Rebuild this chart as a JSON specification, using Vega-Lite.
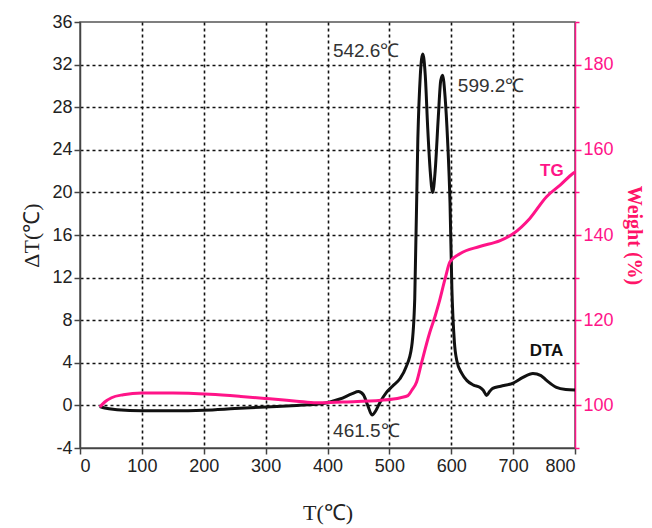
{
  "$schema": "https://vega.github.io/schema/vega-lite/v6.json",
  "width": 495,
  "height": 426,
  "autosize": {"type": "none"},
  "padding": {"left": 80, "top": 22, "right": 77, "bottom": 80},
  "background": "white",
  "config": {
    "view": {"stroke": "#555", "strokeWidth": 1.5},
    "axis": {"labelFont": "Liberation Sans", "labelFontSize": 18, "labelColor": "#222", "titleFontWeight": "normal"}
  },
  "datasets": {
    "dta": [
      {"T": 32, "dT": -0.1}, {"T": 40, "dT": -0.25}, {"T": 60, "dT": -0.4}, {"T": 100, "dT": -0.5},
      {"T": 150, "dT": -0.5}, {"T": 200, "dT": -0.45}, {"T": 250, "dT": -0.3}, {"T": 300, "dT": -0.15},
      {"T": 350, "dT": 0.0}, {"T": 390, "dT": 0.15}, {"T": 420, "dT": 0.6}, {"T": 440, "dT": 1.1},
      {"T": 450, "dT": 1.3}, {"T": 458, "dT": 1.0}, {"T": 465, "dT": 0.0}, {"T": 472, "dT": -0.9},
      {"T": 478, "dT": -0.5}, {"T": 485, "dT": 0.3}, {"T": 495, "dT": 1.2}, {"T": 505, "dT": 1.8},
      {"T": 517, "dT": 2.5}, {"T": 527, "dT": 3.6}, {"T": 536, "dT": 5.5}, {"T": 541, "dT": 10},
      {"T": 546, "dT": 25}, {"T": 550, "dT": 31}, {"T": 554, "dT": 33}, {"T": 558, "dT": 31},
      {"T": 562, "dT": 26}, {"T": 566, "dT": 22}, {"T": 570, "dT": 20}, {"T": 574, "dT": 22},
      {"T": 579, "dT": 27}, {"T": 583, "dT": 30.5}, {"T": 586, "dT": 31}, {"T": 590, "dT": 29},
      {"T": 594, "dT": 25}, {"T": 598, "dT": 19}, {"T": 601, "dT": 11}, {"T": 605, "dT": 6},
      {"T": 609, "dT": 4.2}, {"T": 617, "dT": 3.0}, {"T": 625, "dT": 2.35}, {"T": 636, "dT": 1.9},
      {"T": 646, "dT": 1.7}, {"T": 652, "dT": 1.4}, {"T": 657, "dT": 0.94}, {"T": 662, "dT": 1.3},
      {"T": 667, "dT": 1.6}, {"T": 680, "dT": 1.8}, {"T": 700, "dT": 2.1}, {"T": 715, "dT": 2.6},
      {"T": 732, "dT": 3.0}, {"T": 745, "dT": 2.8}, {"T": 754, "dT": 2.35}, {"T": 770, "dT": 1.7},
      {"T": 785, "dT": 1.5}, {"T": 800, "dT": 1.45}
    ],
    "tg": [
      {"T": 32, "W": 99.6}, {"T": 40, "W": 100.8}, {"T": 51, "W": 101.8}, {"T": 70, "W": 102.5},
      {"T": 100, "W": 102.9}, {"T": 150, "W": 102.9}, {"T": 210, "W": 102.6}, {"T": 260, "W": 102.1},
      {"T": 302, "W": 101.6}, {"T": 350, "W": 101.0}, {"T": 382, "W": 100.6}, {"T": 425, "W": 100.8},
      {"T": 487, "W": 101.2}, {"T": 518, "W": 101.8}, {"T": 530, "W": 102.3}, {"T": 536, "W": 103.5},
      {"T": 544, "W": 105.5}, {"T": 552, "W": 110}, {"T": 565, "W": 117}, {"T": 574, "W": 121},
      {"T": 580, "W": 124}, {"T": 590, "W": 129.7}, {"T": 598, "W": 133.7}, {"T": 614, "W": 135.6},
      {"T": 646, "W": 137.3}, {"T": 679, "W": 138.7}, {"T": 700, "W": 140.3}, {"T": 727, "W": 143.9},
      {"T": 754, "W": 149}, {"T": 776, "W": 151.7}, {"T": 797, "W": 154.5}, {"T": 800, "W": 154.8}
    ],
    "peaks": [
      {"T": 408.7, "dT": 33.3, "label": "542.6℃"},
      {"T": 610.6, "dT": 30.0, "label": "599.2℃"},
      {"T": 409, "dT": -2.45, "label": "461.5℃"}
    ],
    "tglabel": [{"T": 762.5, "dT": 22.0, "label": "TG"}],
    "dtalabel": [{"T": 754, "dT": 5.1, "label": "DTA"}]
  },
  "layer": [
    {
      "layer": [
        {
          "data": {"name": "dta"},
          "mark": {"type": "line", "color": "#111", "strokeWidth": 3, "interpolate": "monotone"},
          "encoding": {
            "x": {
              "field": "T", "type": "quantitative",
              "scale": {"domain": [0, 800], "nice": false},
              "axis": {
                "values": [0, 50, 100, 150, 200, 250, 300, 350, 400, 450, 500, 550, 600, 650, 700, 750, 800],
                "labelExpr": "datum.value % 100 === 0 ? datum.label : ''",
                "title": "T(℃)", "titleFont": "Liberation Serif", "titleFontSize": 22, "titleColor": "#222",
                "titlePadding": 27,
                "domainColor": "#444", "domainWidth": 1.5,
                "tickColor": "#444", "tickWidth": 1.5,
                "tickSize": {"condition": {"test": "datum.value % 100 === 0", "value": 6}, "value": 4},
                "labelPadding": 3,
                "grid": true, "gridDash": [3, 3], "gridColor": "#111", "gridWidth": 1.6,
                "gridOpacity": {"condition": {"test": "datum.value % 100 === 0 && datum.value > 0 && datum.value < 800", "value": 1}, "value": 0}
              }
            },
            "y": {
              "field": "dT", "type": "quantitative",
              "scale": {"domain": [-4, 36], "nice": false},
              "axis": {
                "values": [-4, -2, 0, 2, 4, 6, 8, 10, 12, 14, 16, 18, 20, 22, 24, 26, 28, 30, 32, 34, 36],
                "labelExpr": "datum.value % 4 === 0 ? (datum.value < 0 ? '-' + abs(datum.value) : '' + datum.value) : ''",
                "title": "ΔT(℃)", "titleFont": "Liberation Serif", "titleFontSize": 22, "titleColor": "#222",
                "titlePadding": 8,
                "domainColor": "#444", "domainWidth": 1.5,
                "tickColor": "#444", "tickWidth": 1.5,
                "tickSize": {"condition": {"test": "datum.value % 4 === 0", "value": 6}, "value": 4},
                "labelPadding": 2,
                "grid": true, "gridDash": [3, 3], "gridColor": "#111", "gridWidth": 1.6,
                "gridOpacity": {"condition": {"test": "datum.value % 4 === 0 && datum.value > -4 && datum.value < 36", "value": 1}, "value": 0}
              }
            }
          }
        },
        {
          "data": {"name": "peaks"},
          "mark": {"type": "text", "align": "left", "baseline": "middle", "font": "Liberation Sans", "fontSize": 19, "color": "#333"},
          "encoding": {
            "x": {"field": "T", "type": "quantitative"},
            "y": {"field": "dT", "type": "quantitative"},
            "text": {"field": "label"}
          }
        },
        {
          "data": {"name": "tglabel"},
          "mark": {"type": "text", "align": "center", "baseline": "middle", "font": "Liberation Sans", "fontSize": 17, "fontWeight": "bold", "color": "#ff1488"},
          "encoding": {
            "x": {"field": "T", "type": "quantitative"},
            "y": {"field": "dT", "type": "quantitative"},
            "text": {"field": "label"}
          }
        },
        {
          "data": {"name": "dtalabel"},
          "mark": {"type": "text", "align": "center", "baseline": "middle", "font": "Liberation Sans", "fontSize": 17, "fontWeight": "bold", "color": "#111"},
          "encoding": {
            "x": {"field": "T", "type": "quantitative"},
            "y": {"field": "dT", "type": "quantitative"},
            "text": {"field": "label"}
          }
        }
      ]
    },
    {
      "data": {"name": "tg"},
      "mark": {"type": "line", "color": "#ff1488", "strokeWidth": 3, "interpolate": "monotone"},
      "encoding": {
        "x": {"field": "T", "type": "quantitative"},
        "y": {
          "field": "W", "type": "quantitative",
          "scale": {"domain": [90, 190], "nice": false},
          "axis": {
            "orient": "right",
            "values": [90, 100, 110, 120, 130, 140, 150, 160, 170, 180, 190],
            "labelExpr": "datum.value % 20 === 0 && datum.value < 190 && datum.value > 90 ? datum.label : ''",
            "title": "Weight (%)", "titleFont": "Liberation Serif", "titleFontSize": 20, "titleFontWeight": "bold",
            "titleColor": "#ff1468", "titlePadding": 10,
            "domainColor": "#ff1488", "domainWidth": 1.5,
            "tickColor": "#ff1488", "tickWidth": 1.5,
            "tickSize": {"condition": {"test": "datum.value % 20 === 0", "value": 6}, "value": 4},
            "labelColor": "#ff1488", "labelPadding": 2,
            "grid": false
          }
        }
      }
    }
  ],
  "resolve": {"scale": {"y": "independent"}}
}
